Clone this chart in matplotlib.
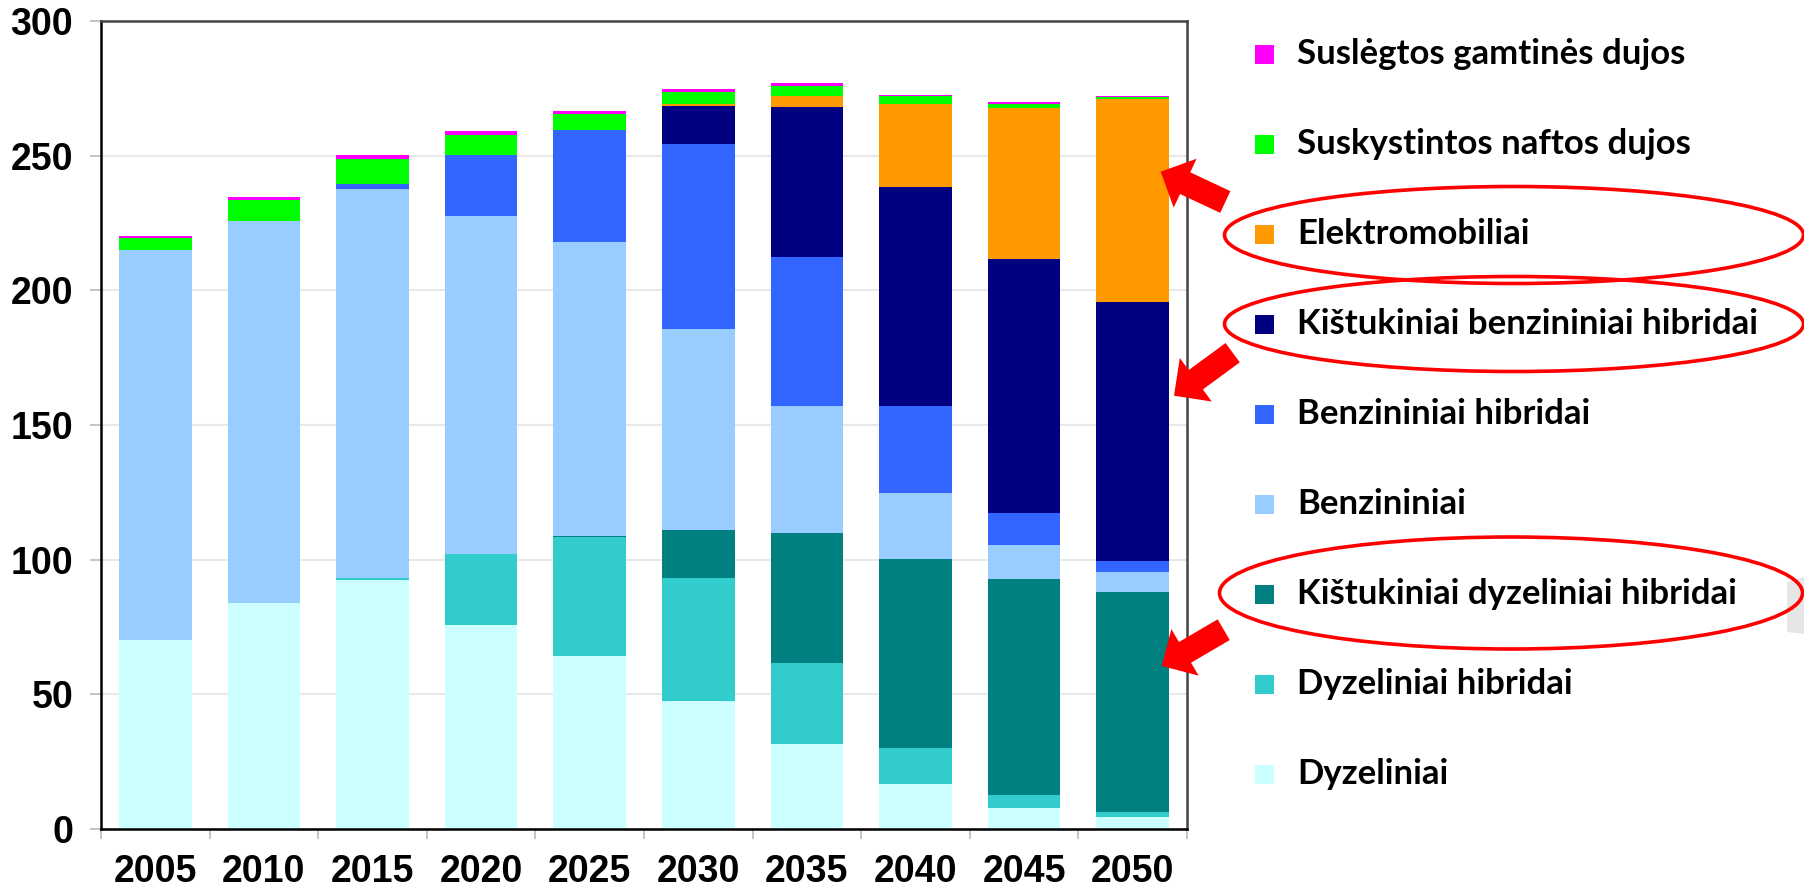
import matplotlib
matplotlib.use('Agg')
import matplotlib.pyplot as plt
import numpy as np
from matplotlib.patches import FancyArrow, Ellipse, Rectangle, Polygon

years = ['2005', '2010', '2015', '2020', '2025', '2030', '2035', '2040', '2045', '2050']

# series from the bottom of the stack to the top
dyzeliniai = [70.1, 84.0, 92.4, 75.7, 64.4, 47.7, 31.5, 16.7, 7.9, 4.5]
dyz_hibridai = [0, 0, 0.9, 26.5, 44.2, 45.6, 30.2, 13.5, 4.7, 1.7]
kist_dyz_hibridai = [0, 0, 0, 0, 0.3, 17.6, 48.3, 70.2, 80.3, 81.8]
benzininiai = [144.7, 141.8, 144.5, 125.5, 109.1, 74.8, 46.9, 24.5, 12.6, 7.4]
benz_hibridai = [0, 0, 1.5, 22.6, 41.7, 68.8, 55.6, 32.0, 12.0, 4.1]
kist_benz_hibridai = [0, 0, 0, 0, 0, 13.9, 55.6, 81.5, 94.2, 96.1]
elektromobiliai = [0, 0, 0, 0, 0, 0.9, 4.0, 30.9, 56.0, 75.6]
snd = [4.6, 7.9, 9.4, 7.5, 5.6, 4.4, 3.9, 2.8, 1.6, 0.7]
sgd = [0.9, 1.1, 1.4, 1.4, 1.4, 1.1, 0.8, 0.6, 0.6, 0.4]

series = [dyzeliniai, dyz_hibridai, kist_dyz_hibridai, benzininiai, benz_hibridai,
          kist_benz_hibridai, elektromobiliai, snd, sgd]
labels = ['Dyzeliniai', 'Dyzeliniai hibridai', 'Kištukiniai dyzeliniai hibridai',
          'Benzininiai', 'Benzininiai hibridai', 'Kištukiniai benzininiai hibridai',
          'Elektromobiliai', 'Suskystintos naftos dujos', 'Suslėgtos gamtinės dujos']
colors = ['#CCFFFF', '#33CCCC', '#008080', '#99CCFF', '#3366FF', '#000080',
          '#FF9900', '#00FF00', '#FF00FF']

yticks = [0, 50, 100, 150, 200, 250, 300]

W, H = 1804, 896
fig = plt.figure(figsize=(W / 100, H / 100), dpi=100)
ax = fig.add_axes([101 / W, 1 - 829 / H, 1086 / W, 808 / H])

x = np.arange(len(years))
bottom = np.zeros(len(years))
for vals, c in zip(series, colors):
    ax.bar(x, vals, 0.667, bottom=bottom, color=c, linewidth=0, zorder=2)
    bottom += np.array(vals)

ax.set_xlim(-0.5, len(years) - 0.5)
ax.set_ylim(0, 300)
ax.set_yticks(yticks)
ax.set_yticklabels([str(v) for v in yticks], fontsize=27, fontweight='bold',
                   family='Liberation Sans')
ax.tick_params(axis='y', length=8, width=1.2, color='#bbbbbb', pad=12)

# boundaries get the tick marks, centres get the labels
ax.set_xticks(np.arange(len(years) + 1) - 0.5)
ax.set_xticklabels([])
ax.set_xticks(x, minor=True)
ax.set_xticklabels(years, minor=True, fontsize=27, fontweight='bold',
                   family='Liberation Sans')
ax.tick_params(axis='x', which='major', length=7, width=1.2, color='#bbbbbb')
ax.tick_params(axis='x', which='minor', length=0, pad=18)

ax.grid(axis='y', color='#e8e8e8', linewidth=1.5, zorder=0)
ax.set_axisbelow(True)
ax.spines['left'].set_color('black')
ax.spines['bottom'].set_color('black')
ax.spines['top'].set_color('#444444')
ax.spines['right'].set_color('#444444')
for s in ax.spines.values():
    s.set_linewidth(1.8)

# overlay in pixel coordinates for legend, arrows and rings
ov = fig.add_axes([0, 0, 1, 1], zorder=5)
ov.set_xlim(0, W)
ov.set_ylim(H, 0)
ov.axis('off')
ov.patch.set_alpha(0)

# faint grey shape at the right edge
ov.add_patch(Polygon([(1787, 582), (1804, 577), (1804, 634), (1787, 632)],
                     closed=True, color='#e6e6e6', linewidth=0))

for i, (lab, c) in enumerate(zip(labels[::-1], colors[::-1])):
    yy = 54.5 + 90 * i
    ov.add_patch(Rectangle((1255, yy - 9.5), 19, 19, color=c, linewidth=0))
    ov.text(1297, yy, lab, va='center', ha='left', fontsize=25,
            fontweight='bold', family='Lato')

# red rings around the legend entries
for cx, cy, w, h in [(1514, 235, 579, 97), (1514, 324, 579, 95), (1511, 593, 583, 112)]:
    ov.add_patch(Ellipse((cx, cy), w, h, fill=False, edgecolor='#FF0000',
                         linewidth=2.6, clip_on=False))

# red block arrows (tail -> tip)
for tx, ty, hx, hy in [(1225.3, 202, 1160.7, 171.7),
                       (1232.7, 352.7, 1174, 395.7),
                       (1223.7, 629.7, 1161.7, 666)]:
    ov.add_patch(FancyArrow(tx, ty, hx - tx, hy - ty, width=24, head_width=54,
                            head_length=27, length_includes_head=True,
                            color='#FF0000', linewidth=0))

fig.savefig('out.png', dpi=100)
